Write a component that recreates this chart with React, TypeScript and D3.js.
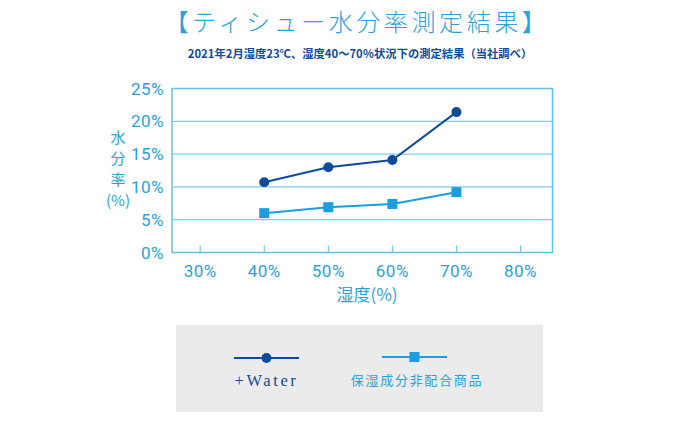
import React from "react";
import * as d3 from "d3";

const humidity = [40, 50, 60, 70];
const waterValues = [10.7, 13.0, 14.1, 21.4];
const plainValues = [6.0, 6.9, 7.4, 9.2];
const xTicks = [30, 40, 50, 60, 70, 80];
const yTicks = [0, 5, 10, 15, 20, 25];
const seriesNames = ["+Water", "保湿成分非配合商品"];
const titleText = "【ティシュー水分率測定結果】";
const subtitleText = "2021年2月湿度23℃、湿度40〜70％状況下の測定結果（当社調べ）";
const yLabelChars = ["水", "分", "率", "(%)"];
const xLabelText = "湿度(%)";

const NAVY = "#0e4b9a";
const LIGHT = "#1b9de0";
const GRID = "#63bfe9";
const TEXT = "#2aa2dc";

export default function App() {
  const W = 680, H = 421;
  const left = 172, right = 552.5, top = 88.5, bottom = 252.5;
  const x = d3.scaleLinear().domain([25.6, 85]).range([left, right]);
  const y = d3.scaleLinear().domain([0, 25]).range([bottom, top]);
  const line = d3.line<[number, number]>().x(d => x(d[0])).y(d => y(d[1]));
  const waterPts: [number, number][] = humidity.map((h, i) => [h, waterValues[i]]);
  const plainPts: [number, number][] = humidity.map((h, i) => [h, plainValues[i]]);
  const font = "Roboto, 'Noto Sans', sans-serif";
  const jp = "'Noto Sans CJK JP', sans-serif";

  return (
    <svg width={W} height={H} style={{ position: "absolute", left: 0, top: 0, background: "#fff" }}>
      <text x={357} y={31} textAnchor="middle" fill={TEXT} fontFamily={jp} fontSize={24} letterSpacing={3.6} fontWeight={300}>{titleText}</text>
      <text x={360} y={58} textAnchor="middle" fill={NAVY} fontFamily={jp} fontSize={11.3} fontWeight={700}>{subtitleText}</text>

      {yTicks.filter(t => t > 0 && t < 25).map(t => (
        <line key={t} x1={left} x2={right} y1={y(t)} y2={y(t)} stroke={GRID} strokeWidth={1} />
      ))}
      {xTicks.map(t => (
        <line key={t} x1={x(t)} x2={x(t)} y1={bottom} y2={bottom - 7} stroke={GRID} strokeWidth={1} />
      ))}
      <rect x={left} y={top} width={right - left} height={bottom - top} fill="none" stroke={GRID} strokeWidth={1.5} />

      {yTicks.map(t => (
        <text key={t} x={164} y={y(t) + 6} textAnchor="end" fill={TEXT} fontFamily={font} fontSize={17} letterSpacing={0.5}>{t}%</text>
      ))}
      {xTicks.map(t => (
        <text key={t} x={x(t)} y={277} textAnchor="middle" fill={TEXT} fontFamily={font} fontSize={17} letterSpacing={0.5}>{t}%</text>
      ))}
      {yLabelChars.map((c, i) => (
        <text key={i} x={118} y={143 + i * 21} textAnchor="middle" fill={TEXT} fontFamily={jp} fontSize={15}>{c}</text>
      ))}
      <text x={367} y={301} textAnchor="middle" fill={TEXT} fontFamily={jp} fontSize={17}>{xLabelText}</text>

      <path d={line(plainPts) || ""} fill="none" stroke={LIGHT} strokeWidth={2} />
      {plainPts.map((p, i) => (
        <rect key={i} x={x(p[0]) - 5} y={y(p[1]) - 5} width={10} height={10} fill={LIGHT} />
      ))}
      <path d={line(waterPts) || ""} fill="none" stroke={NAVY} strokeWidth={2} />
      {waterPts.map((p, i) => (
        <circle key={i} cx={x(p[0])} cy={y(p[1])} r={5} fill={NAVY} />
      ))}

      <rect x={176} y={325} width={367} height={87} fill="#ebebeb" />
      <line x1={234} x2={299} y1={358} y2={358} stroke={NAVY} strokeWidth={2} />
      <circle cx={266.5} cy={358} r={5} fill={NAVY} />
      <text x={266.5} y={386} textAnchor="middle" fill={NAVY} fontFamily="'Liberation Serif', serif" fontSize={16.5} letterSpacing={2.6}>{seriesNames[0]}</text>
      <line x1={382} x2={447} y1={357} y2={357} stroke={LIGHT} strokeWidth={2} />
      <rect x={409.5} y={352} width={10} height={10} fill={LIGHT} />
      <text x={417} y={385} textAnchor="middle" fill={TEXT} fontFamily={jp} fontSize={13} letterSpacing={1.7}>{seriesNames[1]}</text>
    </svg>
  );
}
